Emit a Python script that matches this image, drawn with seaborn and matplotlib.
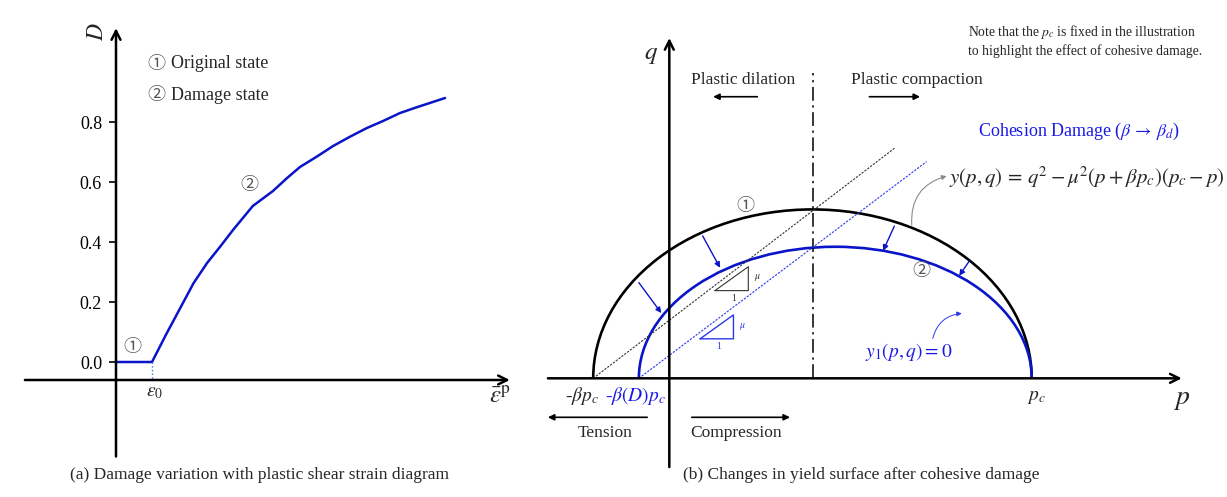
import matplotlib
matplotlib.use('Agg')
import matplotlib.pyplot as plt
from matplotlib.patches import Arc
from matplotlib.ticker import FormatStrFormatter
import seaborn as sns
import pandas as pd

# ---- panel (a): damage vs. plastic shear strain (eps0 taken as 1) ----
eps_p = [0.0, 1.0, 1.41, 1.83, 2.15, 2.53, 2.89, 3.25, 3.8, 4.36, 4.74, 5.11,
         5.57, 6.03, 6.5, 6.97, 7.43, 7.89, 8.35, 9.14]
damage = [0.0, 0.0, 0.096, 0.19, 0.262, 0.33, 0.384, 0.44, 0.52, 0.57, 0.612, 0.65,
          0.684, 0.72, 0.751, 0.78, 0.804, 0.83, 0.849, 0.88]
d_ticks = [0.0, 0.2, 0.4, 0.6, 0.8]
eps0 = 1.0

# ---- panel (b): yield surfaces, p normalised by pc ----
pc = 1.0
beta = 0.21        # original cohesion ratio
beta_d = 0.084     # damaged cohesion ratio
q_top = 0.466      # peak q of original surface
q_top_d = 0.363    # peak q of damaged surface
p_mid = 0.397      # dash-dot line (critical state)
q_mid_top = 0.842

slope_line = [(-beta, 0.0), (0.623, 0.636)]
slope_line_d = [(-beta_d, 0.0), (0.710, 0.598)]

shrink_arrows = [((-0.084, 0.264), (-0.022, 0.180)),
                 ((0.092, 0.393), (0.140, 0.305)),
                 ((0.621, 0.420), (0.590, 0.352)),
                 ((0.828, 0.324), (0.800, 0.283))]

tri_black = [(0.126, 0.242), (0.218, 0.308), (0.218, 0.242), (0.126, 0.242)]
tri_blue = [(0.085, 0.109), (0.177, 0.175), (0.177, 0.109), (0.085, 0.109)]

BLUE = '#0a14c8'
TBLUE = '#1a1ae6'

sns.set_theme(style='white')
plt.rcParams['font.family'] = ['Liberation Serif', 'Noto Sans CJK JP', 'DejaVu Sans']
plt.rcParams['mathtext.fontset'] = 'stix'

fig = plt.figure(figsize=(12.27, 4.97), dpi=100)
ax_a = fig.add_axes([0, 0, 540 / 1227, 1])
ax_b = fig.add_axes([540 / 1227, 0, 687 / 1227, 1])

# ================= panel (a) =================
ax = ax_a
ax.set_xlim(-3.222, 11.778)
ax.set_ylim(-0.45, 1.2067)
for s in ax.spines.values():
    s.set_visible(False)
ax.spines['left'].set_position(('data', 0))
ax.spines['bottom'].set_position(('data', -0.06))

df = pd.DataFrame({'eps': eps_p, 'D': damage})
sns.lineplot(data=df, x='eps', y='D', ax=ax, color=BLUE, lw=1.8)
ax.set_xlabel('')
ax.set_ylabel('')
ax.plot([eps0, eps0], [0, -0.06], ls=':', color='#4a6fe0', lw=1.0)

arrow_axis = dict(arrowstyle='->', lw=1.8, color='black', mutation_scale=16,
                  shrinkA=0, shrinkB=0)
ax.annotate('', xy=(0, 1.113), xytext=(0, -0.315), arrowprops=arrow_axis)
ax.annotate('', xy=(10.94, -0.06), xytext=(-2.53, -0.06), arrowprops=arrow_axis)

ax.set_yticks(d_ticks)
ax.yaxis.set_major_formatter(FormatStrFormatter('%.1f'))
ax.tick_params(axis='y', left=True, length=5, width=1.2, pad=5, labelsize=13,
               colors='black')
ax.set_xticks([])

ax.text(eps0 + 0.08, -0.1, r'$\varepsilon_0$', fontsize=14, ha='center', va='center')
ax.text(10.67, -0.118, r'$\bar{\varepsilon}^{\mathrm{p}}$', fontsize=18,
        ha='center', va='center')
ax.text(-0.5, 1.1, r'$D$', fontsize=17, rotation=90, ha='center', va='center')

ax.text(1.13, 0.995, '①', fontsize=13, color='#555555', ha='center', va='center',
        family='Noto Sans CJK JP')
ax.text(1.52, 0.995, 'Original state', fontsize=13, ha='left', va='center')
ax.text(1.13, 0.89, '②', fontsize=13, color='#555555', ha='center', va='center',
        family='Noto Sans CJK JP')
ax.text(1.52, 0.89, 'Damage state', fontsize=13, ha='left', va='center')
ax.text(3.7, 0.59, '②', fontsize=13, color='#555555', ha='center', va='center',
        family='Noto Sans CJK JP')
ax.text(0.46, 0.05, '①', fontsize=13, color='#555555', ha='center', va='center',
        family='Noto Sans CJK JP')

ax.text(4.0, -0.377, '(a) Damage variation with plastic shear strain diagram',
        fontsize=12.5, ha='center', va='center')

# ================= panel (b) =================
ax = ax_b
ax.set_xlim(-0.3568, 1.5389)
ax.set_ylim(-0.3275, 1.0439)
ax.set_xticks([])
ax.set_yticks([])
for s in ax.spines.values():
    s.set_visible(False)

# yield surfaces
ax.add_patch(Arc(((pc - beta * pc) / 2, 0), pc + beta * pc, 2 * q_top,
                 theta1=0, theta2=180, color='black', lw=1.9))
ax.add_patch(Arc(((pc - beta_d * pc) / 2, 0), pc + beta_d * pc, 2 * q_top_d,
                 theta1=0, theta2=180, color=BLUE, lw=1.9))

# axes
ax.annotate('', xy=(0, 0.939), xytext=(0, -0.245), arrowprops=arrow_axis)
ax.annotate('', xy=(1.414, 0), xytext=(-0.335, 0), arrowprops=arrow_axis)

# critical state line
ax.plot([p_mid, p_mid], [0, q_mid_top], color='black', lw=1.1,
        ls=(0, (9, 3, 1.5, 3)))

# slope lines
ax.plot([a[0] for a in slope_line], [a[1] for a in slope_line], color='#333333',
        lw=0.8, ls=(0, (2, 1.2)))
ax.plot([a[0] for a in slope_line_d], [a[1] for a in slope_line_d], color='#2a3ae8',
        lw=0.8, ls=(0, (2, 1.2)))

# slope triangles
ax.plot([v[0] for v in tri_black], [v[1] for v in tri_black], color='#333333', lw=0.8)
ax.plot([v[0] for v in tri_blue], [v[1] for v in tri_blue], color='#2a3ae8', lw=1.0)
ax.text(0.243, 0.279, r'$\mu$', fontsize=7, color='#333333', ha='center', va='center')
ax.text(0.177, 0.221, '1', fontsize=7, color='#333333', ha='center', va='center')
ax.text(0.2025, 0.144, r'$\mu$', fontsize=7, color='#2a3ae8', ha='center', va='center')
ax.text(0.136, 0.087, '1', fontsize=7, color='#2a3ae8', ha='center', va='center')

# damage arrows
for start, end in shrink_arrows:
    ax.annotate('', xy=end, xytext=start,
                arrowprops=dict(arrowstyle='-|>', lw=1.0, color=BLUE,
                                mutation_scale=8, shrinkA=0, shrinkB=0))

# labels on the axes
ax.text(-0.05, 0.891, r'$q$', fontsize=18, ha='center', va='center')
ax.text(1.414, -0.058, r'$p$', fontsize=20, ha='center', va='center')
ax.text(1.012, -0.052, r'$p_c$', fontsize=14, ha='center', va='center')
ax.text(-0.242, -0.048, r'-$\beta p_c$', fontsize=14, ha='center', va='center')
ax.text(-0.092, -0.048, r'-$\beta(D)p_c$', fontsize=14, ha='center', va='center',
        color=TBLUE)

# tension / compression
small_arrow = dict(arrowstyle='-|>', lw=1.2, color='black', mutation_scale=9,
                   shrinkA=0, shrinkB=0)
ax.annotate('', xy=(-0.335, -0.1076), xytext=(-0.061, -0.1076), arrowprops=small_arrow)
ax.annotate('', xy=(0.333, -0.1076), xytext=(0.062, -0.1076), arrowprops=small_arrow)
ax.text(-0.177, -0.152, 'Tension', fontsize=12.5, ha='center', va='center')
ax.text(0.184, -0.152, 'Compression', fontsize=12.5, ha='center', va='center')

# plastic dilation / compaction
ax.annotate('', xy=(0.121, 0.777), xytext=(0.243, 0.777), arrowprops=small_arrow)
ax.annotate('', xy=(0.692, 0.777), xytext=(0.552, 0.777), arrowprops=small_arrow)
ax.text(0.204, 0.823, 'Plastic dilation', fontsize=12.5, ha='center', va='center')
ax.text(0.683, 0.823, 'Plastic compaction', fontsize=12.5, ha='center', va='center')

# state markers
ax.text(0.211, 0.475, '①', fontsize=13, color='#555555', ha='center', va='center',
        family='Noto Sans CJK JP')
ax.text(0.696, 0.296, '②', fontsize=13, color='#555555', ha='center', va='center',
        family='Noto Sans CJK JP')

# annotations on the right
ax.text(0.825, 0.932,
        'Note that the $p_c$ is fixed in the illustration\n'
        'to highlight the effect of cohesive damage.',
        fontsize=9.8, ha='left', va='center', linespacing=1.3)
ax.text(0.853, 0.68, r'Cohesion Damage ($\beta\,\rightarrow\,\beta_d$)', fontsize=13,
        color=TBLUE, ha='left', va='center')
ax.text(0.772, 0.556, r'$y(p,q)\,=\,q^2-\mu^2(p+\beta p_c)(p_c-p)$', fontsize=15,
        ha='left', va='center')
ax.annotate('', xy=(0.765, 0.558), xytext=(0.669, 0.423),
            arrowprops=dict(arrowstyle='-|>', lw=0.8, color='#8a8a8a',
                            mutation_scale=7, shrinkA=0, shrinkB=0,
                            connectionstyle='arc3,rad=-0.4'))
ax.text(0.54, 0.073, r'$y_1(p,q)=0$', fontsize=14, color=TBLUE, ha='left',
        va='center')
ax.annotate('', xy=(0.807, 0.179), xytext=(0.727, 0.110),
            arrowprops=dict(arrowstyle='-|>', lw=0.7, color='#2a3ae8',
                            mutation_scale=7, shrinkA=0, shrinkB=0,
                            connectionstyle='arc3,rad=-0.35'))

ax.text(0.529, -0.267, '(b) Changes in yield surface after cohesive damage',
        fontsize=12.5, ha='center', va='center')

fig.savefig('out.png', dpi=100, facecolor='white')
